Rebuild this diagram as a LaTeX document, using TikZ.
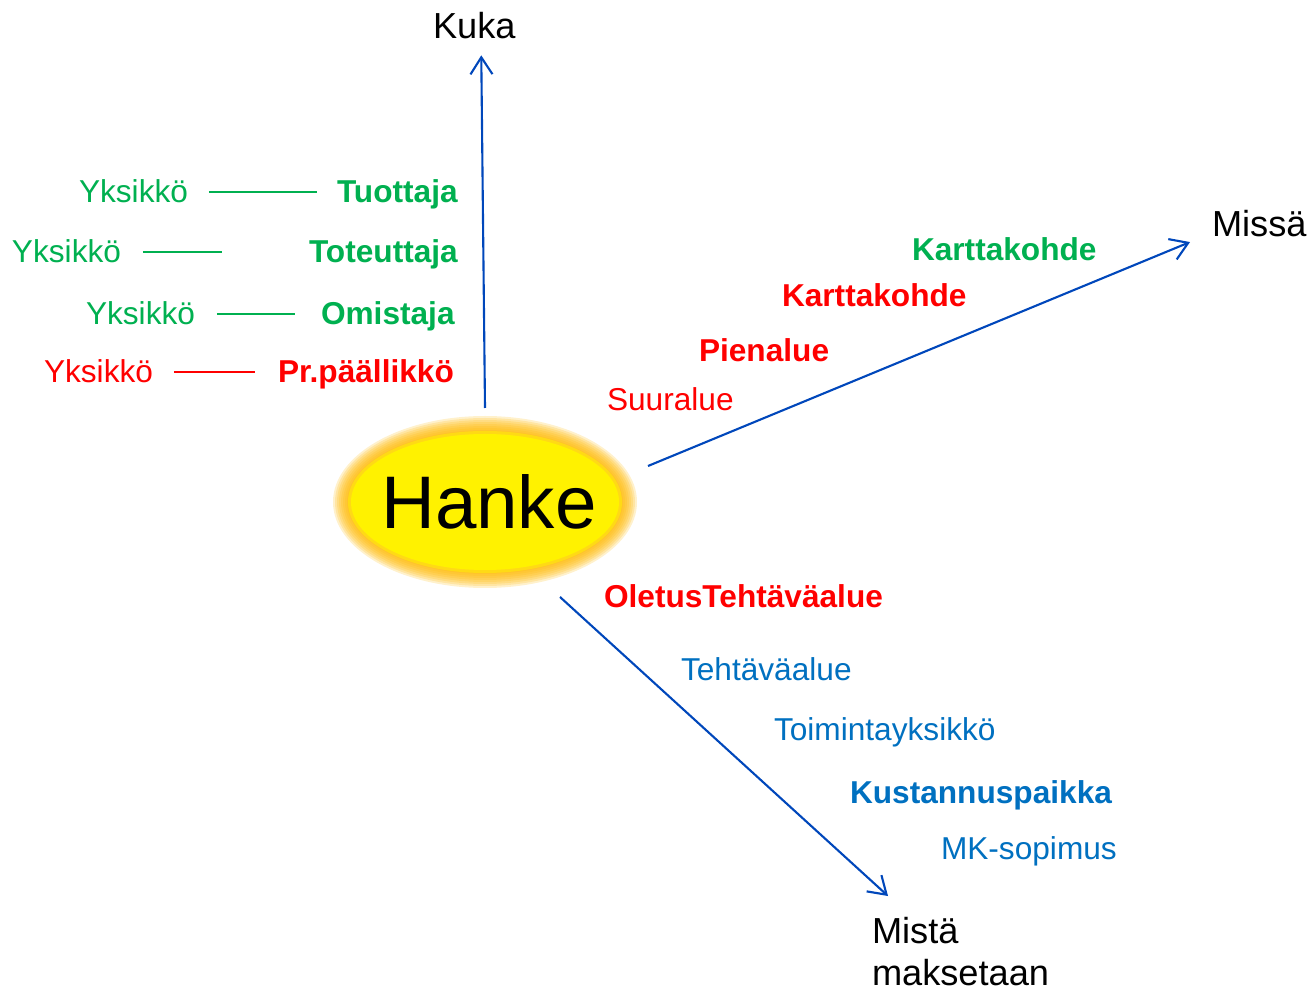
\documentclass[tikz,border=0pt]{standalone}
\usepackage{fontspec}
\setmainfont{Liberation Sans}
\usepackage{tikz}
\usetikzlibrary{arrows.meta,positioning,calc,shapes.geometric}
\definecolor{hgreen}{RGB}{0,176,80}
\definecolor{hred}{RGB}{255,0,0}
\definecolor{hblue}{RGB}{0,112,192}
\definecolor{arrblue}{RGB}{0,71,187}
\definecolor{glow}{RGB}{255,184,0}

\begin{document}
\begin{tikzpicture}[
  lbl/.style={inner sep=0pt,outer sep=0pt,anchor=base west,font=\fontsize{9}{11}\selectfont},
  bld/.style={lbl,font=\fontsize{9}{11}\selectfont\bfseries},
  dir/.style={inner sep=0pt,outer sep=0pt,anchor=base west,align=left,font=\fontsize{10.3}{11.9}\selectfont},
  arr/.style={-{Straight Barb[length=1.7mm,width=2.2mm]},line width=0.6pt,color=arrblue},
  lnk/.style={line width=0.6pt}]
  \useasboundingbox (0,0) rectangle (13.11,9.9);
  % glow behind the ellipse
  \foreach \g in {16,14,...,2}
    \fill[glow,opacity=0.2] (4.85,4.88) ellipse ({1.36+\g/100} and {0.70+\g/100});
  \fill[yellow,opacity=0.5] (4.85,4.88) ellipse (1.37 and 0.71);
  \node[ellipse,fill=yellow,inner sep=0pt,outer sep=0pt,minimum width=2.68cm,minimum height=1.36cm] (hanke) at (4.85,4.88) {};
  \node[inner sep=0pt,font=\fontsize{21.2}{24}\selectfont] (hktxt) at ([xshift=0.04cm]hanke.center) {Hanke};
  % directions
  \node[dir] (kuka) at (4.33,9.51) {Kuka};
  \node[dir] (missa) at (12.12,7.53) {Missä};
  \node[dir] (mista) at (8.72,0.05) {Mistä\\maksetaan};
  \coordinate (mtip) at (8.88,0.94);
  \draw[arr] ([yshift=0.26cm]hanke.north)--([xshift=0.07cm,yshift=-0.16cm]kuka.south);
  \draw[arr] ([xshift=0.29cm,yshift=0.36cm]hanke.east)--([xshift=-0.22cm,yshift=-0.18cm]missa.west);
  \draw[arr] ([xshift=0.75cm,yshift=-0.27cm]hanke.south)--(mtip);
  % kuka
  \node[lbl,text=hgreen] (yk1) at (0.79,7.87) {Yksikkö};
  \node[bld,text=hgreen] (tuot) at (3.37,7.87) {Tuottaja};
  \node[lbl,text=hgreen] (yk2) at (0.12,7.27) {Yksikkö};
  \node[bld,text=hgreen] (tote) at (3.09,7.27) {Toteuttaja};
  \node[lbl,text=hgreen] (yk3) at (0.86,6.65) {Yksikkö};
  \node[bld,text=hgreen] (omis) at (3.21,6.65) {Omistaja};
  \node[lbl,text=hred] (yk4) at (0.44,6.07) {Yksikkö};
  \node[bld,text=hred] (prp) at (2.78,6.07) {Pr.päällikkö};
  \draw[lnk,hgreen,shorten <=0.21cm,shorten >=0.20cm] (yk1.east)--(yk1.east -| tuot.west);
  \draw[lnk,hgreen,shorten <=0.22cm,shorten >=0.87cm] (yk2.east)--(yk2.east -| tote.west);
  \draw[lnk,hgreen,shorten <=0.22cm,shorten >=0.26cm] (yk3.east)--(yk3.east -| omis.west);
  \draw[lnk,hred,shorten <=0.21cm,shorten >=0.23cm] (yk4.east)--(yk4.east -| prp.west);
  % missa
  \node[bld,text=hgreen] (kk1) at (9.12,7.29) {Karttakohde};
  \node[bld,text=hred] (kk2) at (7.82,6.83) {Karttakohde};
  \node[bld,text=hred] (pien) at (6.99,6.28) {Pienalue};
  \node[lbl,text=hred] (suur) at (6.07,5.79) {Suuralue};
  % mista maksetaan
  \node[bld,text=hred] (olet) at (6.04,3.82) {OletusTehtäväalue};
  \node[lbl,text=hblue] (teht) at (6.81,3.10) {Tehtäväalue};
  \node[lbl,text=hblue] (toim) at (7.74,2.49) {Toimintayksikkö};
  \node[bld,text=hblue] (kust) at (8.50,1.87) {Kustannuspaikka};
  \node[lbl,text=hblue] (mksop) at (9.41,1.31) {MK-sopimus};
\end{tikzpicture}
\end{document}
